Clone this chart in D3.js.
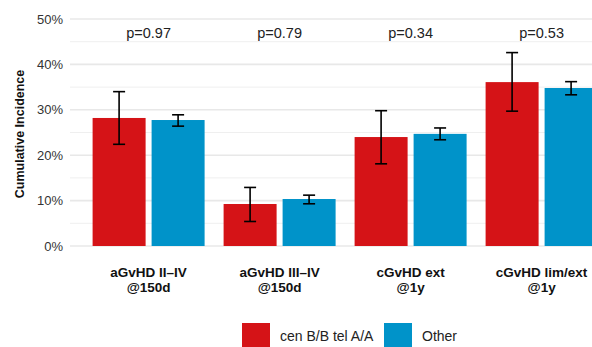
<!DOCTYPE html>
<html>
<meta charset="utf-8">
<head>
<style>
  body { margin: 0; background: #fff; }
  text { font-family: "Liberation Sans", Arial, sans-serif; }
</style>
</head>
<script src="https://d3js.org/d3.v7.min.js"></script>
<body>
<svg id="chart" width="592" height="347"></svg>
<script>

// data
var categories = ["aGvHD II\u2013IV\n@150d", "aGvHD III\u2013IV\n@150d", "cGvHD ext\n@1y", "cGvHD lim/ext\n@1y"];
var groups = ["cen B/B tel A/A", "Other"];
var pValues = ["p=0.97", "p=0.79", "p=0.34", "p=0.53"];
var redValues = [28.2, 9.25, 24.0, 36.1];
var redLow = [22.4, 5.4, 18.1, 29.7];
var redHigh = [34.0, 12.9, 29.8, 42.6];
var blueValues = [27.75, 10.35, 24.7, 34.8];
var blueLow = [26.4, 9.3, 23.4, 33.3];
var blueHigh = [28.9, 11.2, 26.0, 36.2];
var yTicks = [0, 10, 20, 30, 40, 50];
var colors = ["#d51317", "#0093c9"];

var svg = d3.select("#chart");

// the panel runs past the right edge, like the original
var step = 131;
var x0 = 70;
var x = d3.scaleBand()
  .domain(categories)
  .range([x0 + 0.6 * step - step / 2, x0 + 0.6 * step - step / 2 + 4 * step])
  .paddingInner(0).paddingOuter(0);

var barW = 53, gap = 6;
var xSub = d3.scaleOrdinal().domain(groups).range([-(barW + gap) / 2, (barW + gap) / 2]);

var y = d3.scaleLinear().domain([0, 50]).range([246, 19]);

// grid
var minor = d3.range(5, 50, 10);
svg.append("g").selectAll("line").data(minor).enter().append("line")
  .attr("x1", x0).attr("x2", 592)
  .attr("y1", function(d) { return y(d); }).attr("y2", function(d) { return y(d); })
  .attr("stroke", "#efefef").attr("stroke-width", 1);
svg.append("g").selectAll("line").data(yTicks).enter().append("line")
  .attr("x1", x0).attr("x2", 592)
  .attr("y1", function(d) { return y(d); }).attr("y2", function(d) { return y(d); })
  .attr("stroke", "#e8e8e8").attr("stroke-width", 1.6);

// y axis labels
var yAxis = d3.axisLeft(y).tickValues(yTicks).tickSize(0).tickPadding(7)
  .tickFormat(function(d) { return d + "%"; });
var ya = svg.append("g").attr("transform", "translate(" + x0 + ",0)").call(yAxis);
ya.select(".domain").remove();
ya.selectAll("text").attr("font-size", 13).attr("fill", "#333")
  .style("font-family", "'Liberation Sans', Arial, sans-serif");

svg.append("text")
  .attr("transform", "translate(24,134) rotate(-90)")
  .attr("text-anchor", "middle")
  .attr("font-size", 12.5).attr("font-weight", "bold").attr("fill", "#111")
  .text("Cumulative Incidence");

// bars
var rows = [];
categories.forEach(function(c, i) {
  rows.push({ cat: c, grp: groups[0], v: redValues[i], lo: redLow[i], hi: redHigh[i], col: colors[0] });
  rows.push({ cat: c, grp: groups[1], v: blueValues[i], lo: blueLow[i], hi: blueHigh[i], col: colors[1] });
});

function cx(d) { return x(d.cat) + x.bandwidth() / 2 + xSub(d.grp); }

svg.append("g").selectAll("rect").data(rows).enter().append("rect")
  .attr("x", function(d) { return cx(d) - barW / 2; })
  .attr("width", barW)
  .attr("y", function(d) { return y(d.v); })
  .attr("height", function(d) { return y(0) - y(d.v); })
  .attr("fill", function(d) { return d.col; });

// error bars
var eb = svg.append("g").attr("stroke", "#000").attr("stroke-width", 1.6);
rows.forEach(function(d) {
  var c = cx(d);
  eb.append("line").attr("x1", c).attr("x2", c).attr("y1", y(d.hi)).attr("y2", y(d.lo));
  eb.append("line").attr("x1", c - 6).attr("x2", c + 6).attr("y1", y(d.hi)).attr("y2", y(d.hi));
  eb.append("line").attr("x1", c - 6).attr("x2", c + 6).attr("y1", y(d.lo)).attr("y2", y(d.lo));
});

// p values
svg.append("g").selectAll("text").data(categories).enter().append("text")
  .attr("x", function(d) { return x(d) + x.bandwidth() / 2; })
  .attr("y", 38)
  .attr("text-anchor", "middle")
  .attr("font-size", 14.5).attr("fill", "#222")
  .text(function(d, i) { return pValues[i]; });

// x labels
var xl = svg.append("g").selectAll("text").data(categories).enter().append("text")
  .attr("text-anchor", "middle")
  .attr("font-size", 13.5).attr("font-weight", "bold").attr("fill", "#111");
xl.each(function(d) {
  var t = d3.select(this);
  d.split("\n").forEach(function(line, k) {
    t.append("tspan")
      .attr("x", x(d) + x.bandwidth() / 2)
      .attr("y", 277 + k * 15)
      .text(line);
  });
});

// legend
var legend = svg.append("g");
var legX = [242, 384];
groups.forEach(function(g, i) {
  legend.append("rect").attr("x", legX[i]).attr("y", 323).attr("width", 28).attr("height", 24)
    .attr("fill", colors[i]);
  legend.append("text").attr("x", legX[i] + 38).attr("y", 341)
    .attr("font-size", 14).attr("fill", "#222").text(g);
});

</script>
</body>
</html>
